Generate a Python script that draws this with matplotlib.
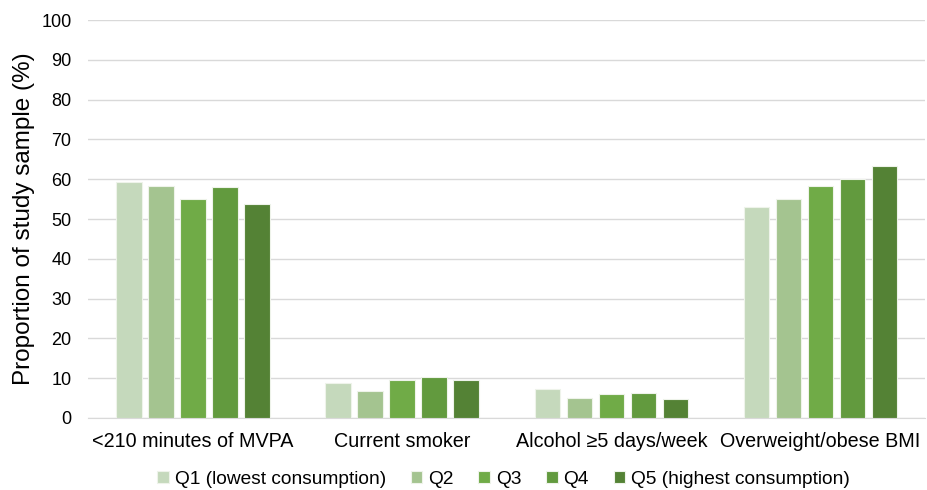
import matplotlib.pyplot as plt
import numpy as np

categories = ['<210 minutes of MVPA', 'Current smoker', 'Alcohol \u22655 days/week', 'Overweight/obese BMI']
series = ['Q1 (lowest consumption)', 'Q2', 'Q3', 'Q4', 'Q5 (highest consumption)']
q1 = [59.4, 8.8, 7.3, 52.9]
q2 = [58.3, 6.9, 5.0, 55.1]
q3 = [55.0, 9.6, 6.0, 58.2]
q4 = [58.1, 10.3, 6.3, 60.0]
q5 = [53.8, 9.6, 4.8, 63.3]
colors = ['#c5d9bc', '#a4c490', '#70ab47', '#629a3e', '#548235']

plt.rcParams['font.family'] = ['Liberation Sans', 'DejaVu Sans']

fig = plt.figure(figsize=(9.28, 4.9), dpi=100)
ax = fig.add_axes([0.095, 0.147, 0.902, 0.812])

x = np.arange(len(categories))
step = 0.153
width = 0.122
for i, vals in enumerate([q1, q2, q3, q4, q5]):
    ax.bar(x + (i - 2) * step, vals, width, color=colors[i], label=series[i],
           edgecolor='#eef3ea', linewidth=0.8, zorder=3)

ax.set_xlim(-0.5, len(categories) - 0.5)
ax.set_ylim(0, 100)
ax.set_yticks(range(0, 101, 10))
ax.yaxis.grid(True, color='#d9d9d9', linewidth=1, zorder=0)
ax.set_xticks(x)
ax.set_xticklabels(categories, fontsize=14.2)
ax.tick_params(axis='y', labelsize=13, length=0, pad=12)
ax.tick_params(axis='x', length=0, pad=10)
for s in ['top', 'right', 'left']:
    ax.spines[s].set_visible(False)
ax.spines['bottom'].set_color('#d9d9d9')
ax.set_ylabel('Proportion of study sample (%)', fontsize=17.5)
ax.yaxis.set_label_coords(-0.064, 0.5)

ax.legend(loc='center', bbox_to_anchor=(0.5426, 1 - 479 / 490), bbox_transform=fig.transFigure,
          ncol=5, frameon=False, fontsize=13.8, handlelength=0.6, handleheight=0.6,
          handletextpad=0.3, columnspacing=1.3, borderpad=0)

fig.savefig('out.png', dpi=100)
